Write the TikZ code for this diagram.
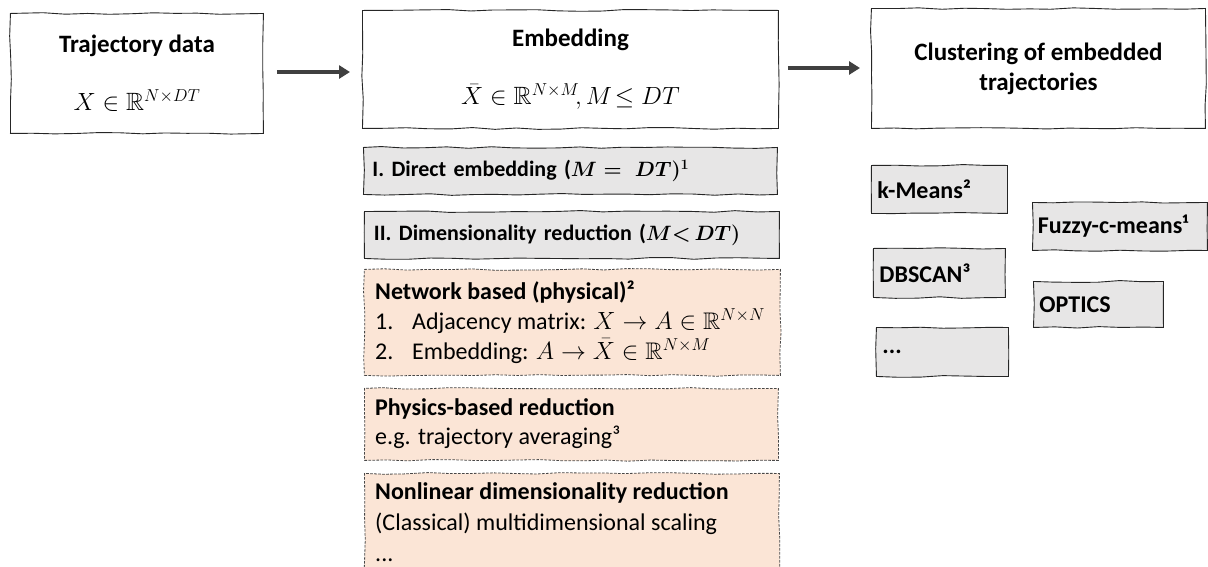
\documentclass[tikz,border=0pt]{standalone}
\usepackage{amsmath,amssymb}
\usepackage{fontspec}
\setmainfont{Carlito}
\usetikzlibrary{arrows.meta,decorations.pathmorphing}

\definecolor{boxgray}{HTML}{E7E6E6}
\definecolor{boxpeach}{HTML}{FBE5D6}
\definecolor{edge}{HTML}{262626}
\definecolor{arrowgray}{HTML}{404040}

\tikzset{
  sketchy/.style={decorate,decoration={random steps,segment length=22pt,amplitude=0.9pt}},
  bigbox/.style={sketchy,draw=edge,line width=0.9pt,fill=white,anchor=north west,
    align=center,inner sep=0pt,font=\fontsize{25}{30}\selectfont},
  graybox/.style={sketchy,draw=edge,line width=0.9pt,fill=boxgray,anchor=north west,
    align=left,inner sep=0pt,font=\fontsize{22}{26}\selectfont\bfseries},
  itembox/.style={graybox,font=\fontsize{24}{28}\selectfont\bfseries},
  peachbox/.style={sketchy,draw=edge!85,line width=0.8pt,dash pattern=on 2.6pt off 1.4pt,
    fill=boxpeach,anchor=north west,inner sep=0pt},
  bodytext/.style={anchor=west,align=left,inner sep=0pt,font=\fontsize{24}{29}\selectfont},
  flow/.style={-{Triangle[length=11pt,width=13pt]},line width=4pt,draw=arrowgray},
}

\begin{document}
\begin{tikzpicture}[x=1pt,y=-1pt]
\pgfmathsetseed{7}
\useasboundingbox (0,0) rectangle (1208,566);

% --- main pipeline -------------------------------------------------------
\node[bigbox,minimum width=253pt,minimum height=120pt] (traj) at (10,13)
  {\textbf{Trajectory data}\\[28pt]$X\in\mathbb{R}^{N\times DT}$};
\node[bigbox,minimum width=416pt,minimum height=118pt] (emb) at (362,10)
  {\textbf{Embedding}\\[28pt]$\bar{X}\in\mathbb{R}^{N\times M}\!,M\!\leq DT$};
\node[bigbox,minimum width=334pt,minimum height=120pt] (clu) at (871,8)
  {\textbf{Clustering of embedded}\\\textbf{trajectories}};

\draw[flow,shorten <=13pt,shorten >=12pt] (traj.east |- 0,72) -- (emb.west |- 0,72);
\draw[flow,shorten <=9pt,shorten >=11pt] (emb.east |- 0,68) -- (clu.west |- 0,68);

% --- embedding variants --------------------------------------------------
\node[graybox,minimum width=414pt,minimum height=47pt,text width=400pt] (direct) at (363,147)
  {\hspace*{2pt}I. Direct embedding ({\boldmath$M=\;DT)^{1}$}};
\node[graybox,minimum width=415pt,minimum height=47pt,text width=400pt] (dimred) at (364,211)
  {\hspace*{2pt}II. Dimensionality reduction ({\boldmath$M{<}\,DT)$}};

\node[peachbox,minimum width=416pt,minimum height=106pt] (netbox) at (364,269) {};
\node[bodytext,font=\fontsize{24}{30}\selectfont] (nettext) at (375,322)
  {\textbf{Network based (physical)²}\\
   \makebox[37pt][l]{1.}Adjacency matrix: $X\rightarrow A\in\mathbb{R}^{N\times N}$\\
   \makebox[37pt][l]{2.}Embedding: $A\rightarrow\bar{X}\in\mathbb{R}^{N\times M}$};

\node[peachbox,minimum width=414pt,minimum height=72pt] (physbox) at (364,388) {};
\node[bodytext] (phystext) at (375,424)
  {\textbf{Physics-based reduction}\\e.g. trajectory averaging³};

\node[peachbox,minimum width=415pt,minimum height=130pt] (nlbox) at (364,473) {};
\node[bodytext,anchor=north west,font=\fontsize{24}{31}\selectfont] (nltext) at (375,482)
  {\textbf{Nonlinear dimensionality reduction}\\(Classical) multidimensional scaling\\...};

% --- clustering methods --------------------------------------------------
\node[itembox,minimum width=136pt,minimum height=48pt,text width=126pt] (kmeans) at (871,165)
  {\hspace*{1pt}k-Means²};
\node[itembox,minimum width=175pt,minimum height=48pt,text width=166pt] (fuzzy) at (1032,202)
  {\hspace*{1pt}Fuzzy-c-means¹};
\node[itembox,minimum width=132pt,minimum height=49pt,text width=122pt] (dbscan) at (873,248)
  {\hspace*{1pt}DBSCAN³};
\node[itembox,minimum width=130pt,minimum height=46pt,text width=120pt] (optics) at (1033,281)
  {\hspace*{1pt}OPTICS};
\node[itembox,minimum width=132pt,minimum height=49pt,text width=122pt] (more) at (876,327)
  {\hspace*{1pt}...};
\end{tikzpicture}
\end{document}
